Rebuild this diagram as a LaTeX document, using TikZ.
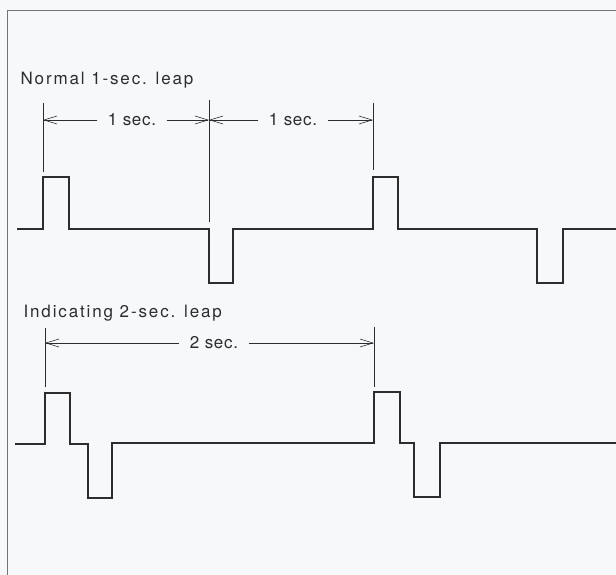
\documentclass[tikz,border=0pt]{standalone}
\usepackage{fontspec}
\newfontfamily\leapfont[LetterSpace=11]{TeX Gyre Heros}
\newfontfamily\secfont[LetterSpace=4]{TeX Gyre Heros}
\usetikzlibrary{arrows.meta}
\definecolor{paper}{RGB}{246,248,250}
\definecolor{ink}{RGB}{45,45,45}
\begin{document}
\begin{tikzpicture}[x=1pt,y=-1pt,line join=miter,line cap=butt,line width=1.1pt,color=ink,
	font=\leapfont\fontsize{17}{20}\selectfont,
	ext/.style={line width=.6pt},
	dim/.style={line width=.6pt,-{Straight Barb[length=13pt,width=8pt]}},
	lbl/.style={inner xsep=10pt,inner ysep=0pt,font=\secfont\fontsize{17}{20}\selectfont}]
	\useasboundingbox (0,0) rectangle (616,575);
	\fill[paper] (0,0) rectangle (616,575);
	% frame
	\draw[line width=.9pt,black!55] (7,575)--(7,10)--(616,10);
	% normal 1-sec. leap
	\node[anchor=base west,inner sep=0pt] (t1) at (20,85) {Normal 1-sec. leap};
	\coordinate (A1) at (43,120);
	\coordinate (A2) at (209,120);
	\coordinate (A3) at (373,120);
	\draw[ext] (43,103)--(43,172) (209,100)--(209,222) (373,103)--(373,170);
	\node[lbl] (s1) at (132,120) {1 sec.};
	\node[lbl] (s2) at (293,120) {1 sec.};
	\draw[dim] (s1)--(A1);
	\draw[dim] (s1)--(A2);
	\draw[dim] (s2)--(A2);
	\draw[dim] (s2)--(A3);
	\draw (17,229)--(43,229)--(43,177)--(69,177)--(69,229)--(209,229)--(209,283)--(233,283)--(233,229)
		--(373,229)--(373,177)--(398,177)--(398,229)--(537,229)--(537,283)--(563,283)--(563,229)--(616,229);
	% indicating 2-sec. leap
	\node[anchor=base west,inner sep=0pt] (t2) at (23,317) {Indicating 2-sec. leap};
	\coordinate (B1) at (45,343);
	\coordinate (B2) at (374,343);
	\draw[ext] (45,328)--(45,387) (374,327)--(374,387);
	\node[lbl] (s3) at (214,343) {2 sec.};
	\draw[dim] (s3)--(B1);
	\draw[dim] (s3)--(B2);
	\draw (15,444)--(45,444)--(45,393)--(70,393)--(70,444)--(88,444)--(88,498)--(112,498)--(112,443)
		--(374,443)--(374,392)--(400,392)--(400,443)--(414,443)--(414,497)--(440,497)--(440,443)--(616,443);
\end{tikzpicture}
\end{document}
